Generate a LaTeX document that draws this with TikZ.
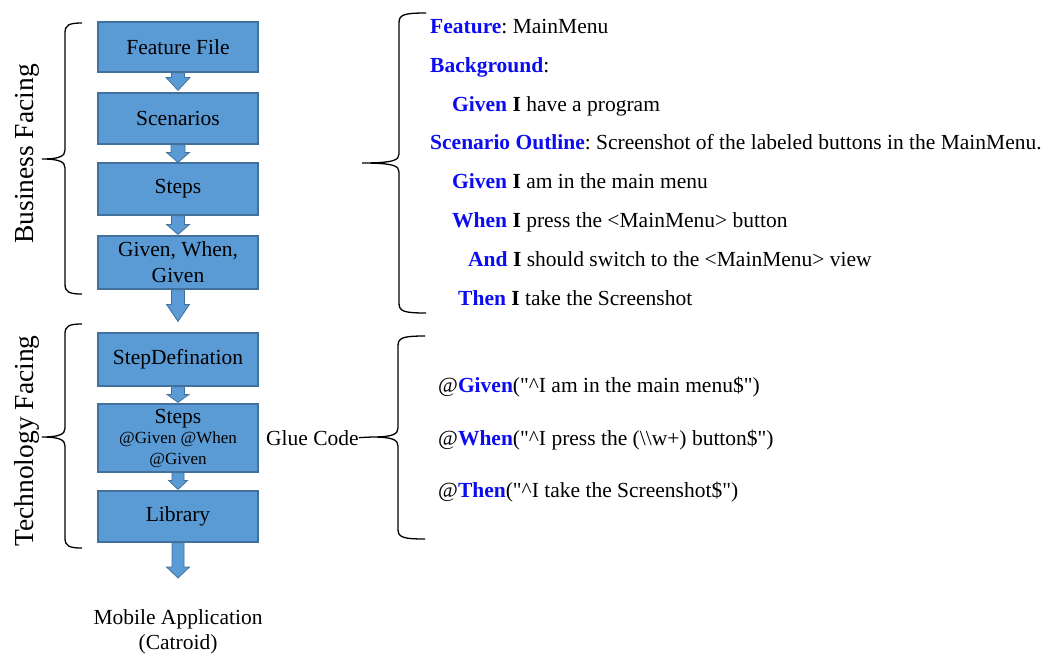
\documentclass[tikz,border=0pt]{standalone}
\usepackage{fontspec}
\setmainfont{Liberation Serif}
% same face without the TeX quote mapping, for straight double quotes
\newfontfamily\plainrm{Liberation Serif}
\usetikzlibrary{calc}
\frenchspacing

\definecolor{boxfill}{HTML}{5B9BD5}
\definecolor{boxline}{HTML}{41719C}
\definecolor{kwblue}{RGB}{12,12,240}

\newcommand{\kw}[1]{\textcolor{kwblue}{\textbf{#1}}}
\newcommand{\dq}{{\plainrm\symbol{34}}}

% block arrow from point #1 down to point #2
% #3 shaft half width, #4 head half width, #5 head length
\newcommand{\blockarrow}[5]{%
  \filldraw[arrowpen]
    ($(#1)+(-#3,0)$) -- ($(#2)+(-#3,-#5)$) -- ($(#2)+(-#4,-#5)$) --
    (#2) --
    ($(#2)+(#4,-#5)$) -- ($(#2)+(#3,-#5)$) -- ($(#1)+(#3,0)$) -- cycle;}

% curly brace opening to the right
% #1 x of the ends, #2 x of the spine, #3 x of the tip, #4 top y, #5 middle y, #6 bottom y
\newcommand{\curlybrace}[6]{%
  \draw[bracepen] (#1,#4) .. controls (#2+4,#4) and (#2,#4+2) .. (#2,#4+10)
    -- (#2,#5-9) .. controls (#2,#5-3) and (#2-5,#5) .. (#3,#5)
    .. controls (#2-5,#5) and (#2,#5+3) .. (#2,#5+9)
    -- (#2,#6-10) .. controls (#2,#6-2) and (#2+4,#6) .. (#1,#6);}

\tikzset{
  stepbox/.style={draw=boxline, fill=boxfill, line width=1.2pt,
    minimum width=160pt, inner sep=0pt, align=center,
    font=\fontsize{21.5}{26}\selectfont},
  arrowpen/.style={draw=boxline, fill=boxfill, line width=0.8pt, line join=miter},
  bracepen/.style={draw=black, line width=1.3pt},
  gline/.style={anchor=base west, inner sep=0pt, font=\fontsize{21.5}{26}\selectfont},
  sidetext/.style={rotate=90, inner sep=0pt, font=\fontsize{27.5}{30}\selectfont},
}

\begin{document}
\begin{tikzpicture}[x=1pt, y=-1pt]
\path[use as bounding box] (0,0) rectangle (1048,654);

% flow boxes
\node[stepbox, minimum height=50pt] (ff)  at (178,47)    {Feature File};
\node[stepbox, minimum height=51pt] (sc)  at (178,118.5) {Scenarios};
\node[stepbox, minimum height=52pt] (st)  at (178,189)   {\raisebox{-2pt}{Steps}};
\node[stepbox, minimum height=53pt] (gw)  at (178,262.5) {Given, When,\\Given};
\node[stepbox, minimum height=53pt] (sd)  at (178,359.5) {StepDefination};
\node[stepbox, minimum height=68pt] (st2) at (178,438)
  {\raisebox{-2pt}{Steps}\\[-4pt]{\fontsize{17}{21}\selectfont @Given @When}\\[-5pt]{\fontsize{17}{21}\selectfont @Given}};
\node[stepbox, minimum height=51pt] (lib) at (178,516.5) {Library};

\node[inner sep=0pt, align=center, font=\fontsize{21.5}{25}\selectfont] (app)
  at (178,632) {Mobile Application\\(Catroid)};
\coordinate (apptip) at (178,578);

% block arrows between the boxes
\coordinate (t1) at ($(sc.north)+(0,-2)$);
\coordinate (t3) at ($(gw.north)+(0,-1)$);
\coordinate (t4) at ($(sd.north)+(0,-11)$);
\coordinate (t5) at ($(st2.north)+(0,-1)$);
\coordinate (t6) at ($(lib.north)+(0,-1)$);
\blockarrow{ff.south}{t1}{6.5}{12}{13}
\blockarrow{sc.south}{st.north}{7}{11.5}{10}
\blockarrow{st.south}{t3}{6.5}{11.5}{10}
\blockarrow{gw.south}{t4}{6.5}{11.5}{17}
\blockarrow{sd.south}{t5}{6.5}{11}{8}
\blockarrow{st2.south}{t6}{6}{9.5}{9}
\blockarrow{lib.south}{apptip}{6}{11.5}{11}

% redraw the boxes over the arrow roots
\foreach \b in {ff,sc,st,gw,sd,st2,lib}{
  \draw[boxline, line width=1.2pt] (\b.north west) rectangle (\b.south east);}

% left braces and their labels
\curlybrace{82}{65}{42}{23}{159}{294}
\curlybrace{82}{65}{42}{324}{437}{548}
\node[sidetext] (biz)  at (27,154) {Business Facing};
\node[sidetext] (tech) at (27,441) {Technology Facing};

% feature file text
\curlybrace{426}{399}{362}{13}{163}{313}
\node[gline] (l1) at (430,33.2)  {\kw{Feature}: MainMenu};
\node[gline] (l2) at (430,72.1)  {\kw{Background}:};
\node[gline] (l3) at (452,111)   {\kw{Given} \textbf{I} have a program};
\node[gline] (l4) at (430,149.9) {\kw{Scenario Outline}: Screenshot of the labeled buttons in the MainMenu.};
\node[gline] (l5) at (452,188.8) {\kw{Given} \textbf{I} am in the main menu};
\node[gline] (l6) at (452,227.7) {\kw{When} \textbf{I} press the <MainMenu> button};
\node[gline] (l7) at (468,266.6) {\kw{And} \textbf{I} should switch to the <MainMenu> view};
\node[gline] (l8) at (458,305.5) {\kw{Then} \textbf{I} take the Screenshot};

% glue code
\node[gline] (glue) at (266,445) {Glue Code};
\coordinate (gluetip) at (372,437);
\curlybrace{425}{398}{372}{336}{437}{539}
\draw[bracepen] (glue.east) -- (gluetip);
\node[gline] (c1) at (438,392.5) {@\kw{Given}(\dq\textasciicircum I am in the main menu\$\dq)};
\node[gline] (c2) at (438,445)   {@\kw{When}(\dq\textasciicircum I press the (\textbackslash\textbackslash w+) button\$\dq)};
\node[gline] (c3) at (438,497)   {@\kw{Then}(\dq\textasciicircum I take the Screenshot\$\dq)};
\end{tikzpicture}
\end{document}
